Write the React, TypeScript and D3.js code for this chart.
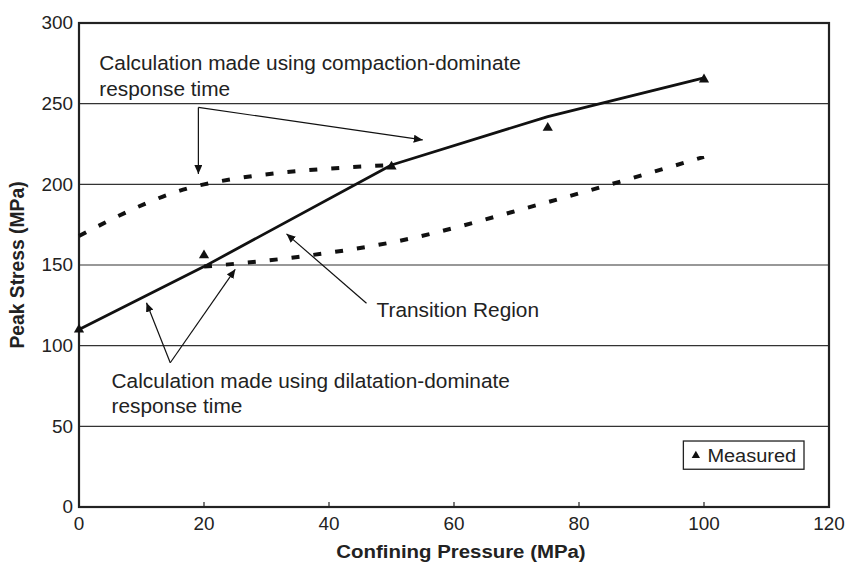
import React from "react";
import * as d3 from "d3";

const W = 847;
const H = 562;

// Data
const solidX = [0, 20, 50, 75, 100];
const solidY = [110, 149, 212, 242, 266];
const compactionX = [0, 20, 50];
const compactionY = [168, 200, 212];
const dilatationX = [20, 35, 50, 75, 100];
const dilatationY = [149, 155, 164, 189, 217];
const measuredX = [0, 20, 50, 75, 100];
const measuredY = [110, 156, 211, 235, 265];
const xTicks = [0, 20, 40, 60, 80, 100, 120];
const yTicks = [0, 50, 100, 150, 200, 250, 300];

// Annotation arrows in data units: [fromX, fromY, toX, toY]
const arrows = [
  [19.1, 247.7, 19.1, 206.4],
  [19.1, 247.7, 55.0, 227.5],
  [14.6, 89.4, 10.8, 126.6],
  [14.6, 89.4, 25.0, 147.3],
  [46.0, 126.3, 33.2, 169.3],
];

const labels = [
  { x: 3.25, y: 270.8, text: "Calculation made using compaction-dominate" },
  { x: 3.25, y: 254.8, text: "response time" },
  { x: 5.2, y: 73.6, text: "Calculation made using dilatation-dominate" },
  { x: 5.2, y: 58.1, text: "response time" },
  { x: 47.6, y: 118, text: "Transition Region" },
];

export default function App() {
  const x = d3.scaleLinear().domain([0, 120]).range([79, 829]);
  const y = d3.scaleLinear().domain([0, 300]).range([507, 23]);
  const font = "'Liberation Sans', Arial, Helvetica, sans-serif";
  const sx = 1.08;

  const solid = d3
    .line<number>()
    .x((d, i) => x(solidX[i]))
    .y((d) => y(d))(solidY);
  const comp = d3
    .line<number>()
    .x((d, i) => x(compactionX[i]))
    .y((d) => y(d))
    .curve(d3.curveMonotoneX)(compactionY);
  const dil = d3
    .line<number>()
    .x((d, i) => x(dilatationX[i]))
    .y((d) => y(d))
    .curve(d3.curveMonotoneX)(dilatationY);
  const tri = d3.symbol().type(d3.symbolTriangle).size(45)();

  return (
    <svg
      width={W}
      height={H}
      style={{ position: "absolute", left: 0, top: 0, background: "#fff" }}
      fontFamily={font}
    >
      <defs>
        <marker
          id="ah"
          markerUnits="userSpaceOnUse"
          markerWidth={10}
          markerHeight={8}
          refX={9}
          refY={4}
          orient="auto"
        >
          <path d="M0,0 L9,4 L0,8 Z" fill="#111" />
        </marker>
      </defs>
      <rect x={0} y={0} width={W} height={H} fill="#fff" />

      {/* gridlines */}
      {yTicks
        .filter((t) => t > 0 && t < 300)
        .map((t) => (
          <line
            key={"g" + t}
            x1={x(0)}
            x2={x(120)}
            y1={y(t)}
            y2={y(t)}
            stroke="#333"
            strokeWidth={1.2}
          />
        ))}

      {/* x ticks (inside) */}
      {xTicks
        .filter((t) => t > 0 && t < 120)
        .map((t) => (
          <line
            key={"xt" + t}
            x1={x(t)}
            x2={x(t)}
            y1={y(0)}
            y2={y(0) - 5}
            stroke="#222"
            strokeWidth={1.2}
          />
        ))}

      {/* frame */}
      <rect
        x={x(0)}
        y={y(300)}
        width={x(120) - x(0)}
        height={y(0) - y(300)}
        fill="none"
        stroke="#222"
        strokeWidth={2.2}
      />

      {/* tick labels */}
      {yTicks.map((t) => (
        <text
          key={"yl" + t}
          transform={`translate(${x(0) - 6},${y(t) + 6.3}) scale(${sx},1)`}
          textAnchor="end"
          fontSize={17.5}
          fill="#222"
        >
          {t}
        </text>
      ))}
      {xTicks.map((t) => (
        <text
          key={"xl" + t}
          transform={`translate(${x(t)},${y(0) + 23}) scale(${sx},1)`}
          textAnchor="middle"
          fontSize={17.5}
          fill="#222"
        >
          {t}
        </text>
      ))}

      {/* axis titles */}
      <text
        transform={`translate(${(x(0) + x(120)) / 2 + 7},${y(0) + 51}) scale(${sx},1)`}
        textAnchor="middle"
        fontSize={18.9}
        fontWeight="bold"
        fill="#222"
      >
        Confining Pressure (MPa)
      </text>
      <text
        transform={`translate(24,${(y(0) + y(300)) / 2}) rotate(-90)`}
        textAnchor="middle"
        fontSize={19.3}
        fontWeight="bold"
        fill="#222"
      >
        Peak Stress (MPa)
      </text>

      {/* series */}
      <path d={comp || ""} fill="none" stroke="#111" strokeWidth={4} strokeDasharray="8,14" />
      <path d={dil || ""} fill="none" stroke="#111" strokeWidth={4} strokeDasharray="8,14" />
      <path d={solid || ""} fill="none" stroke="#111" strokeWidth={2.8} strokeLinejoin="round" />
      {measuredX.map((mx, i) => (
        <path
          key={"m" + i}
          d={tri || ""}
          transform={`translate(${x(mx)},${y(measuredY[i])})`}
          fill="#111"
        />
      ))}

      {/* annotation arrows */}
      {arrows.map((a, i) => (
        <line
          key={"a" + i}
          x1={x(a[0])}
          y1={y(a[1])}
          x2={x(a[2])}
          y2={y(a[3])}
          stroke="#111"
          strokeWidth={1.2}
          markerEnd="url(#ah)"
        />
      ))}

      {/* annotation text */}
      {labels.map((l, i) => (
        <text
          key={"l" + i}
          transform={`translate(${x(l.x)},${y(l.y)}) scale(${sx},1)`}
          fontSize={19.3}
          fill="#222"
        >
          {l.text}
        </text>
      ))}

      {/* legend */}
      <rect
        x={x(96.7)}
        y={y(40.9)}
        width={x(116.0) - x(96.7)}
        height={y(23.4) - y(40.9)}
        fill="#fff"
        stroke="#222"
        strokeWidth={1.3}
      />
      <path
        d={d3.symbol().type(d3.symbolTriangle).size(30)() || ""}
        transform={`translate(${x(96.7) + 12.5},${(y(40.9) + y(23.4)) / 2 + 0.5})`}
        fill="#111"
      />
      <text
        transform={`translate(${x(96.7) + 24},${(y(40.9) + y(23.4)) / 2 + 6.5}) scale(${sx},1)`}
        fontSize={18.5}
        fill="#222"
      >
        Measured
      </text>
    </svg>
  );
}
